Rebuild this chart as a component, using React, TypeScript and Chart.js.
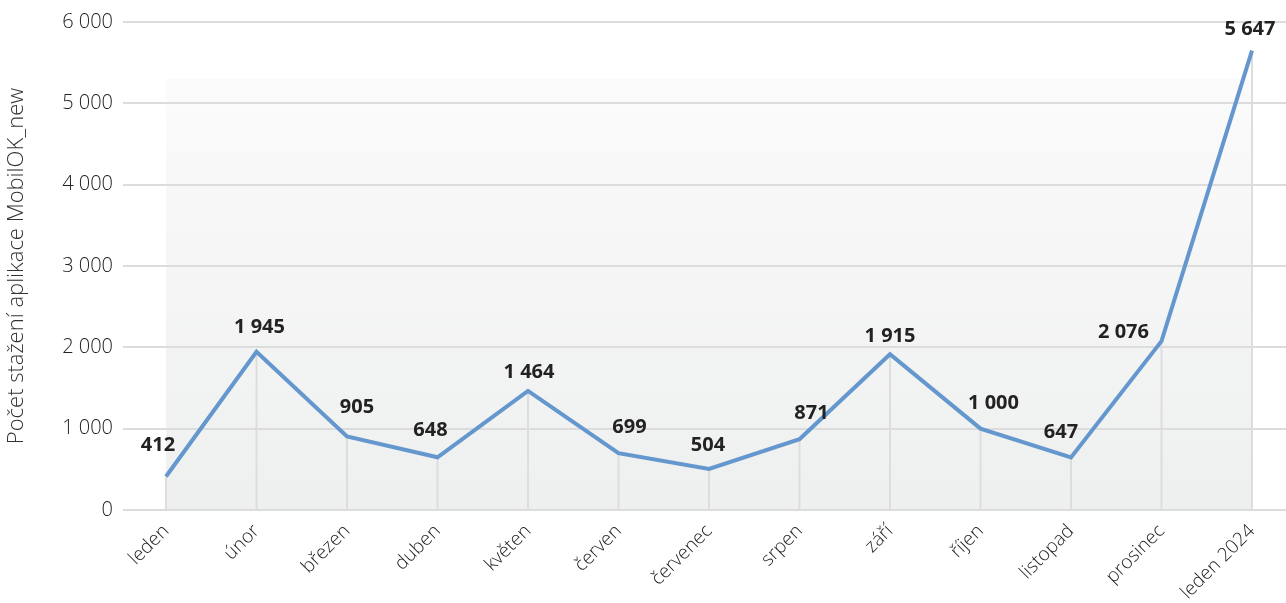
import React, { useEffect, useRef } from "react";
import { Chart, registerables } from "chart.js";

Chart.register(...registerables);

const categories = [
  "leden",
  "únor",
  "březen",
  "duben",
  "květen",
  "červen",
  "červenec",
  "srpen",
  "září",
  "říjen",
  "listopad",
  "prosinec",
  "leden 2024",
];
const downloads = [412, 1945, 905, 648, 1464, 699, 504, 871, 1915, 1000, 647, 2076, 5647];
const yTicks = [0, 1000, 2000, 3000, 4000, 5000, 6000];
const yTitle = "Počet stažení aplikace MobilOK_new";

const fmt = (v: number) => {
  const s = Math.round(v).toString();
  return s.replace(/\B(?=(\d{3})+(?!\d))/g, " ");
};

// label nudges (dx, dy) relative to each point, in px
const labelNudges: [number, number][] = [
  [-8, -31], [3, -25], [10, -29], [-7, -27], [1, -19], [11, -26], [-1, -24],
  [12, -26], [0, -18], [13, -25], [-10, -25], [-38, -9], [-2, -21],
];

const backdropPlugin = {
  id: "backdrop",
  beforeDatasetsDraw(chart: any) {
    const { ctx, chartArea } = chart;
    const y = chart.scales.y;
    const top = chartArea.top + 57;
    ctx.save();
    const g = ctx.createLinearGradient(0, top, 0, chartArea.bottom);
    g.addColorStop(0, "#fbfbfb");
    g.addColorStop(1, "#eeefef");
    ctx.fillStyle = g;
    ctx.fillRect(chartArea.left, top, chartArea.right - chartArea.left + 1, chartArea.bottom - top);
    // horizontal grid lines
    ctx.strokeStyle = "#dcdcdc";
    ctx.lineWidth = 2;
    yTicks.forEach((v) => {
      const py = Math.round(y.getPixelForValue(v));
      ctx.beginPath();
      ctx.moveTo(123, py);
      ctx.lineTo(chart.width, py);
      ctx.stroke();
    });
    // drop lines
    const meta = chart.getDatasetMeta(0);
    ctx.strokeStyle = "#dddddd";
    ctx.lineWidth = 2;
    meta.data.forEach((pt: any) => {
      ctx.beginPath();
      ctx.moveTo(pt.x, pt.y);
      ctx.lineTo(pt.x, chartArea.bottom);
      ctx.stroke();
    });
    ctx.restore();
  },
};

const valueLabelPlugin = {
  id: "valueLabels",
  afterDatasetsDraw(chart: any) {
    const { ctx } = chart;
    const meta = chart.getDatasetMeta(0);
    ctx.save();
    ctx.font = "bold 20px 'Open Sans'";
    ctx.fillStyle = "#222222";
    ctx.textAlign = "center";
    ctx.textBaseline = "middle";
    meta.data.forEach((pt: any, i: number) => {
      const n = labelNudges[i] || [0, -24];
      ctx.fillText(fmt(downloads[i]), pt.x + n[0], pt.y + n[1]);
    });
    ctx.restore();
  },
};

export default function App() {
  const ref = useRef<HTMLCanvasElement | null>(null);
  useEffect(() => {
    if (!ref.current) return;
    const chart = new Chart(ref.current, {
      type: "line",
      data: {
        labels: categories,
        datasets: [
          {
            data: downloads,
            borderColor: "#6497cd",
            borderWidth: 4,
            pointRadius: 0,
            pointHoverRadius: 0,
            fill: false,
            tension: 0,
            borderJoinStyle: "miter",
          },
        ],
      },
      options: {
        responsive: false,
        animation: false,
        layout: { autoPadding: false, padding: { top: 22, right: 34, left: 0, bottom: 0 } },
        plugins: {
          legend: { display: false },
          tooltip: { enabled: false },
        },
        scales: {
          x: {
            offset: false,
            grid: { display: false },
            border: { display: false },
            ticks: {
              maxRotation: 45,
              minRotation: 45,
              autoSkip: false,
              padding: 2,
              color: "#222222",
              font: { family: "'Open Sans'", size: 19, weight: "300" as any },
            },
            afterFit(scale: any) {
              scale.height = 93;
            },
          },
          y: {
            min: 0,
            max: 6000,
            grid: { display: false, tickLength: 53 },
            border: { display: false },
            afterBuildTicks(scale: any) {
              scale.ticks = yTicks.map((v) => ({ value: v }));
            },
            ticks: {
              padding: 0,
              color: "#222222",
              font: { family: "'Open Sans'", size: 20, weight: "300" as any },
              callback: (v: any) => fmt(Number(v)),
            },
            title: {
              display: true,
              text: yTitle,
              color: "#333333",
              padding: { top: 4, bottom: 0 },
              font: { family: "'Open Sans'", size: 22, weight: "300" as any },
            },
            afterFit(scale: any) {
              scale.width = 166;
            },
          },
        },
      },
      plugins: [backdropPlugin, valueLabelPlugin],
    });
    return () => chart.destroy();
  }, []);
  return (
    <div style={{ position: "absolute", left: 0, top: 0, width: 1286, height: 603, background: "#ffffff" }}>
      <canvas ref={ref} width={1286} height={603} style={{ display: "block" }} />
    </div>
  );
}
